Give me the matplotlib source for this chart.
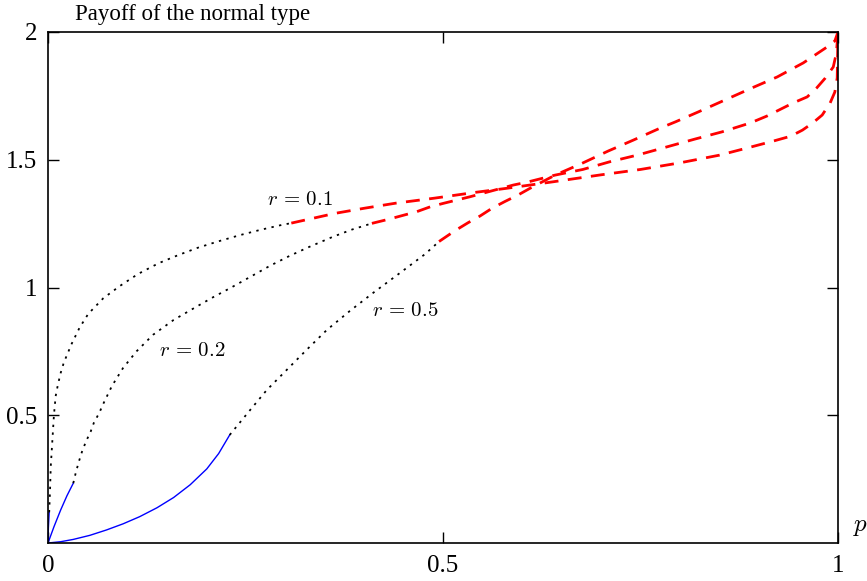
import matplotlib.pyplot as plt

plt.rcParams['font.family'] = 'Liberation Serif'
plt.rcParams['mathtext.fontset'] = 'cm'

### Data
# r = 0.1
r01_solid_x = [0.0, 0.0005, 0.0015]
r01_solid_y = [0.0, 0.06, 0.12]
r01_dot_x = [0.0015, 0.0025, 0.0035, 0.0055, 0.0075, 0.0097, 0.0127, 0.016, 0.020, 0.030, 0.040,
             0.051, 0.070, 0.091, 0.114, 0.140, 0.165, 0.190, 0.216, 0.243, 0.268, 0.296, 0.308]
r01_dot_y = [0.12, 0.20, 0.30, 0.40, 0.50, 0.575, 0.622, 0.665, 0.706, 0.78, 0.843,
             0.897, 0.958, 1.006, 1.053, 1.095, 1.127, 1.156, 1.181, 1.205, 1.225, 1.245, 1.252]
r01_dash_x = [0.308, 0.363, 0.40, 0.44, 0.49, 0.54, 0.58, 0.64, 0.70, 0.75, 0.80, 0.85,
              0.885, 0.918, 0.94, 0.955, 0.968, 0.980, 0.990, 0.996, 0.999, 1.0]
r01_dash_y = [1.252, 1.29, 1.31, 1.33, 1.35, 1.372, 1.388, 1.414, 1.441, 1.462, 1.488, 1.518,
              1.546, 1.573, 1.592, 1.616, 1.644, 1.675, 1.722, 1.765, 1.82, 2.0]

# r = 0.2
r02_solid_x = [0.0, 0.0076, 0.016, 0.024, 0.032]
r02_solid_y = [0.0, 0.064, 0.129, 0.185, 0.234]
r02_dot_x = [0.032, 0.035, 0.039, 0.043, 0.048, 0.054, 0.058, 0.065, 0.070, 0.081, 0.095,
             0.112, 0.133, 0.159, 0.188, 0.209, 0.232, 0.258, 0.281, 0.306, 0.330, 0.361,
             0.385, 0.410]
r02_dot_y = [0.234, 0.273, 0.318, 0.357, 0.397, 0.436, 0.470, 0.510, 0.545, 0.615, 0.685,
             0.750, 0.815, 0.873, 0.925, 0.962, 1.000, 1.045, 1.085, 1.124, 1.158, 1.199,
             1.227, 1.251]
r02_dash_x = [0.410, 0.431, 0.467, 0.484, 0.50, 0.534, 0.589, 0.606, 0.642, 0.677, 0.711,
              0.747, 0.783, 0.819, 0.853, 0.889, 0.910, 0.943, 0.961, 0.973, 0.984, 0.994,
              0.998, 1.0]
r02_dash_y = [1.251, 1.267, 1.297, 1.316, 1.329, 1.355, 1.401, 1.412, 1.44, 1.462, 1.492,
              1.519, 1.550, 1.581, 1.609, 1.644, 1.671, 1.722, 1.746, 1.781, 1.820, 1.863,
              1.918, 2.0]

# r = 0.5
r05_solid_x = [0.0, 0.016, 0.032, 0.053, 0.074, 0.095, 0.116, 0.138, 0.159, 0.180,
               0.201, 0.216, 0.230]
r05_solid_y = [0.0, 0.005, 0.014, 0.030, 0.051, 0.075, 0.103, 0.138, 0.178, 0.228,
               0.290, 0.350, 0.423]
r05_dot_x = [0.230, 0.256, 0.277, 0.302, 0.327, 0.353, 0.382, 0.412, 0.446, 0.477, 0.495]
r05_dot_y = [0.423, 0.521, 0.599, 0.677, 0.755, 0.834, 0.908, 0.980, 1.058, 1.130, 1.180]
r05_dash_x = [0.495, 0.515, 0.532, 0.547, 0.562, 0.578, 0.595, 0.610, 0.642, 0.676, 0.709,
              0.741, 0.775, 0.794, 0.823, 0.857, 0.891, 0.923, 0.956, 0.986, 0.996, 1.0]
r05_dash_y = [1.180, 1.222, 1.254, 1.280, 1.310, 1.336, 1.362, 1.388, 1.440, 1.486, 1.534,
              1.577, 1.624, 1.648, 1.687, 1.734, 1.781, 1.824, 1.879, 1.941, 1.965, 2.0]

labels = ["$r\\,=\\,0.1$", "$r\\,=\\,0.2$", "$r\\,=\\,0.5$"]
label_x = [0.319, 0.183, 0.452]
label_y = [1.34, 0.748, 0.908]

### Plot
fig = plt.figure(figsize=(8.67, 5.81), dpi=100)
ax = fig.add_axes([48 / 867, 38 / 581, 790 / 867, 511 / 581])

segments = [
    (r01_solid_x, r01_solid_y, r01_dot_x, r01_dot_y, r01_dash_x, r01_dash_y),
    (r02_solid_x, r02_solid_y, r02_dot_x, r02_dot_y, r02_dash_x, r02_dash_y),
    (r05_solid_x, r05_solid_y, r05_dot_x, r05_dot_y, r05_dash_x, r05_dash_y),
]
for sx, sy, dx, dy, ex, ey in segments:
    ax.plot(sx, sy, color="#0000ff", lw=1.0)
    ax.plot(dx, dy, color="black", lw=1.3, dashes=(1.3, 3.0))
    ax.plot(ex, ey, color="#ff0000", lw=2.0, dashes=(5.0, 3.4))

for t, x, y in zip(labels, label_x, label_y):
    ax.text(x, y, t, fontsize=15, ha="center", va="center")

ax.set_xlim(0, 1)
ax.set_ylim(0, 2)
ax.set_xticks([0, 0.5, 1])
ax.set_xticklabels(["0", "0.5", "1"])
ax.set_yticks([0.5, 1, 1.5, 2])
ax.set_yticklabels(["0.5", "1", "1.5", "2"])
ax.tick_params(direction="in", length=8, width=1, labelsize=18, top=True, right=True)
ax.tick_params(axis="x", pad=9)
ax.tick_params(axis="y", pad=8)
for s in ax.spines.values():
    s.set_linewidth(1.2)

ax.text(0.034, 1.035, "Payoff of the normal type", transform=ax.transAxes,
        fontsize=16.5, ha="left", va="center")
ax.text(1.028, 0.062, "$p$", fontsize=18, ha="center", va="center", clip_on=False)

fig.savefig("out.png", dpi=100)
